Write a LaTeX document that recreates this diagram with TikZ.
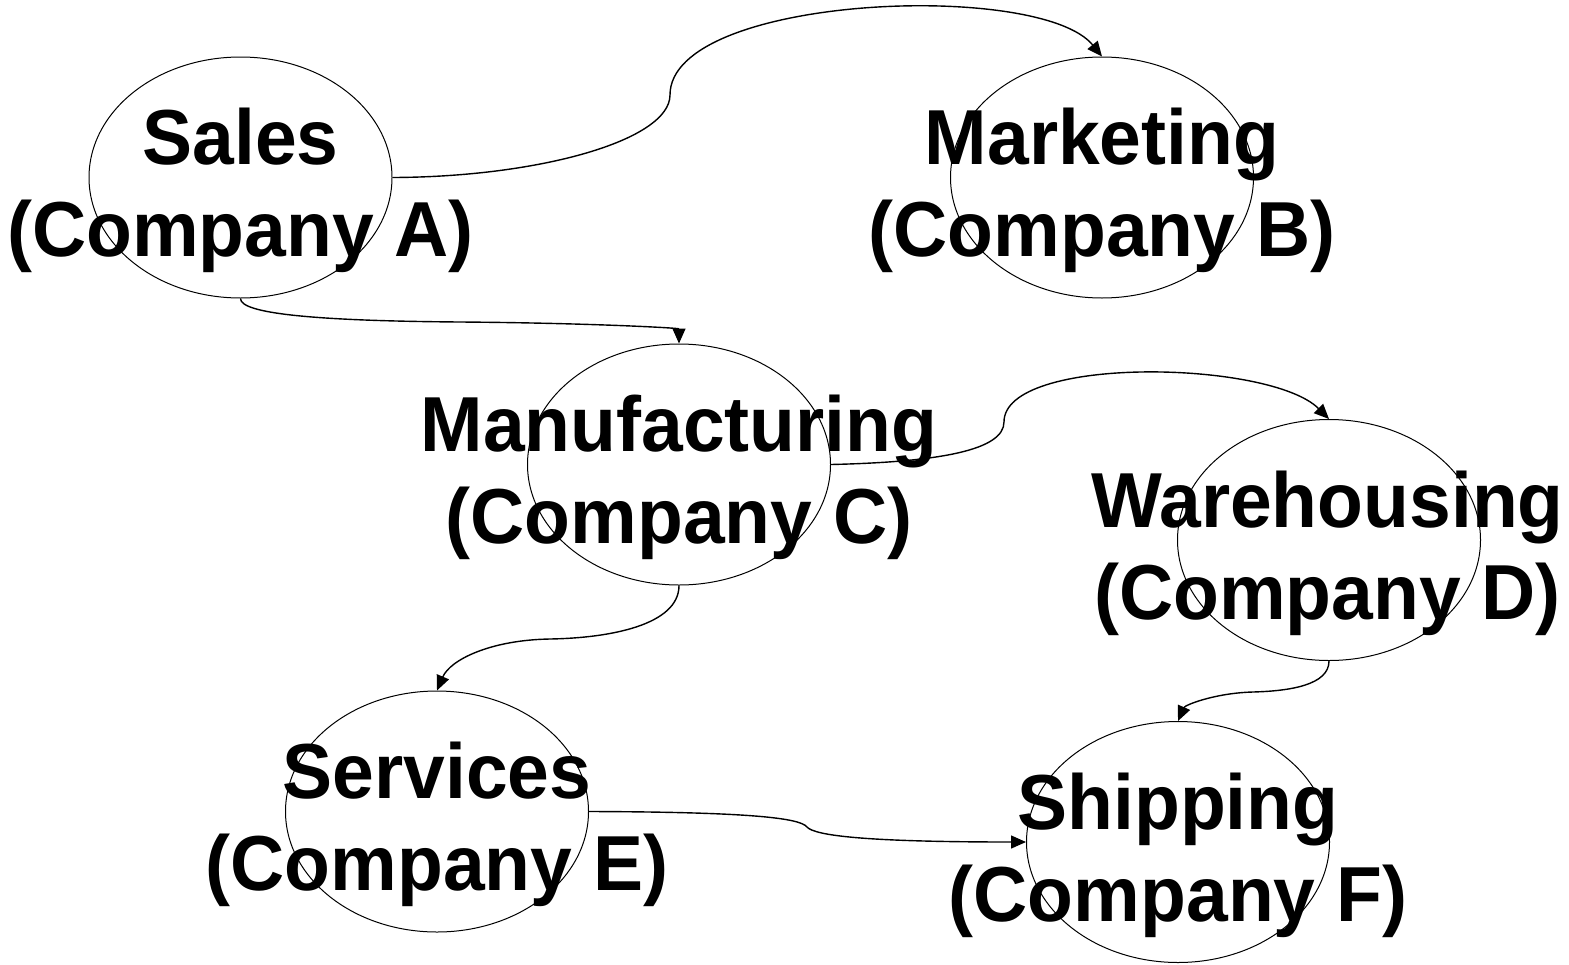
\documentclass[tikz,border=0pt]{standalone}
\usepackage{fontspec}
\setmainfont{Liberation Sans}
\usetikzlibrary{shapes.geometric,arrows.meta}
\begin{document}
\begin{tikzpicture}[x=1pt,y=-1pt,
  org/.style={draw=black,line width=1pt,ellipse,minimum width=303pt,minimum height=241pt,inner sep=0pt},
  lbl/.style={anchor=base,inner sep=0pt,yscale=1.04,font=\fontsize{75}{92}\selectfont\bfseries},
  conn/.style={draw=black,line width=1.4pt,-{Triangle[length=15pt,width=13pt]}}]
\useasboundingbox (0,0) rectangle (1569,964);
% ellipses
\node[org] (A) at (240.5,177.5) {};
\node[org] (B) at (1102,177.5) {};
\node[org] (C) at (679,464.5) {};
\node[org] (D) at (1329,540) {};
\node[org] (E) at (437,811.5) {};
\node[org] (F) at (1178,842) {};
% labels
\node[lbl] (A1) at (240.5,164.5) {Sales};
\node[lbl] (A2) at (240.5,256.5) {(Company A)};
\node[lbl] (B1) at (1102,164.5) {Marketing};
\node[lbl] (B2) at (1102,256.5) {(Company B)};
\node[lbl] (C1) at (679,451.5) {Manufacturing};
\node[lbl] (C2) at (679,543.5) {(Company C)};
\node[lbl] (D1) at (1327.5,527) {Warehousing};
\node[lbl] (D2) at (1327.5,619) {(Company D)};
\node[lbl] (E1) at (437,798.5) {Services};
\node[lbl] (E2) at (437,890.5) {(Company E)};
\node[lbl] (F1) at (1178,829) {Shipping};
\node[lbl] (F2) at (1178,921) {(Company F)};
% connectors
\draw[conn] (A.east) .. controls (540,177) and (670,140) .. (670,95)
  .. controls (670,-5) and (1040,-20) .. (B.north);
\draw[conn] (A.south) .. controls (240,315) and (330,321) .. (460,322)
  .. controls (590,323) and (679,328) .. (C.north);
\draw[conn] (C.east) .. controls (940,462) and (1004,450) .. (1004,422)
  .. controls (1004,355) and (1270,360) .. (D.north);
\draw[conn] (C.south) .. controls (679,625) and (610,638) .. (550,639)
  .. controls (490,640) and (450,660) .. (E.north);
\draw[conn] (D.south) .. controls (1329,685) and (1290,691) .. (1253,692)
  .. controls (1215,693) and (1185,705) .. (F.north);
\draw[conn] (E.east) .. controls (750,812) and (800,818) .. (807,827)
  .. controls (815,836) and (870,842) .. (F.west);
\end{tikzpicture}
\end{document}
